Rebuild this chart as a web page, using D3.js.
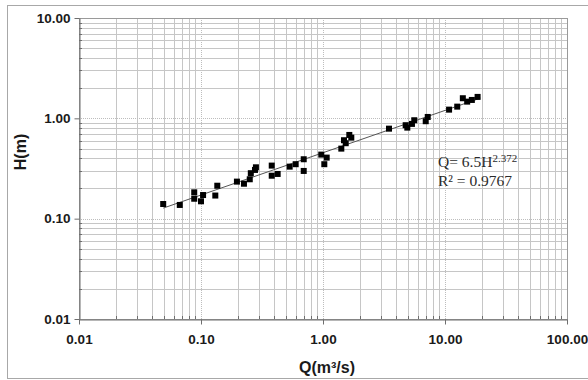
<!DOCTYPE html>
<html>
<head>
<meta charset="utf-8">
<script src="https://cdn.jsdelivr.net/npm/d3@7"></script>
<style>
  body { margin: 0; background: #fff; }
  svg { display: block; }
  .tick-label { font-family: "Liberation Sans", Arial, sans-serif; font-weight: bold; font-size: 13.5px; fill: #1a1a1a; }
  .axis-title { font-family: "Liberation Sans", Arial, sans-serif; font-weight: bold; font-size: 16px; fill: #1a1a1a; }
  .eq { font-family: "Liberation Serif", "Times New Roman", serif; font-size: 15.5px; fill: #2a2a2a; }
</style>
</head>
<body>
<div id="chart-area"></div>
<script>

// DATA
// =====

// discharge Q (m3/s) and stage H (m)
var qValues = [0.049, 0.067, 0.088, 0.088, 0.100, 0.104, 0.131, 0.136, 0.197, 0.225,
               0.251, 0.256, 0.277, 0.282, 0.380, 0.380, 0.425, 0.533, 0.597, 0.695,
               0.695, 0.968, 1.025, 1.072, 1.413, 1.486, 1.535, 1.643, 1.706, 3.475,
               4.76, 4.91, 5.36, 5.60, 6.95, 7.22, 10.8, 12.6, 14.0, 15.2,
               16.6, 18.5];
var hValues = [0.140, 0.137, 0.183, 0.158, 0.149, 0.172, 0.170, 0.213, 0.234, 0.223,
               0.247, 0.284, 0.306, 0.325, 0.338, 0.268, 0.279, 0.330, 0.349, 0.391,
               0.299, 0.435, 0.349, 0.406, 0.499, 0.605, 0.565, 0.683, 0.642, 0.789,
               0.854, 0.808, 0.880, 0.957, 0.936, 1.032, 1.221, 1.308, 1.586, 1.467,
               1.525, 1.635];

// power fit Q = a * H^b, drawn over this Q range
var fitCoef = 6.5;
var fitExp = 2.372;
var fitRange = [0.049, 19.5];

var xTicks = [0.01, 0.1, 1, 10, 100];
var yTicks = [0.01, 0.1, 1, 10];

// CANVAS
// =======

var W = 588, H = 380;
var plot = { left: 79, right: 567, top: 18, bottom: 319 };

var svg = d3.select('#chart-area')
    .append('svg')
        .attr('width', W)
        .attr('height', H);

// outer frame
svg.append('rect')
    .attr('x', 7.5)
    .attr('y', 5.5)
    .attr('width', 600)
    .attr('height', 373)
    .attr('fill', 'none')
    .attr('stroke', '#a8a8a8');

var x = d3.scaleLog()
    .domain([0.01, 100])
    .range([plot.left, plot.right]);

var y = d3.scaleLog()
    .domain([0.01, 10])
    .range([plot.bottom, plot.top]);

function isMajor(d) {
    var l = Math.log10(d);
    return Math.abs(l - Math.round(l)) < 1e-9;
}

var xAll = x.ticks(), yAll = y.ticks();

// GRID
// =====

var grid = svg.append('g');

grid.selectAll('.vgrid')
    .data(xAll)
    .enter().append('line')
        .attr('x1', d => Math.round(x(d)) + 0.5)
        .attr('x2', d => Math.round(x(d)) + 0.5)
        .attr('y1', plot.top)
        .attr('y2', plot.bottom)
        .attr('stroke', d => isMajor(d) ? '#bdbdbd' : '#c6c6c6')
        .attr('stroke-dasharray', d => isMajor(d) ? '1,1' : null);

grid.selectAll('.hgrid')
    .data(yAll)
    .enter().append('line')
        .attr('y1', d => Math.round(y(d)) + 0.5)
        .attr('y2', d => Math.round(y(d)) + 0.5)
        .attr('x1', plot.left)
        .attr('x2', plot.right)
        .attr('stroke', d => isMajor(d) ? '#bdbdbd' : '#c6c6c6')
        .attr('stroke-dasharray', d => isMajor(d) ? '1,1' : null);

// plot border (top / right)
svg.append('rect')
    .attr('x', plot.left + 0.5)
    .attr('y', plot.top + 0.5)
    .attr('width', plot.right - plot.left)
    .attr('height', plot.bottom - plot.top)
    .attr('fill', 'none')
    .attr('stroke', '#9a9a9a');

// AXES
// =====

var yAxisCall = d3.axisLeft(y)
    .tickValues(yTicks)
    .tickFormat(d3.format('.2f'))
    .tickSizeInner(5)
    .tickSizeOuter(0)
    .tickPadding(4);

var yAxis = svg.append('g')
    .attr('transform', 'translate(' + (plot.left + 0.5) + ',0)')
    .call(yAxisCall);

var xAxisCall = d3.axisBottom(x)
    .tickValues(xTicks)
    .tickFormat(d3.format('.2f'))
    .tickSizeInner(5)
    .tickSizeOuter(0)
    .tickPadding(10);

var xAxis = svg.append('g')
    .attr('transform', 'translate(0,' + (plot.bottom + 0.5) + ')')
    .call(xAxisCall);

[xAxis, yAxis].forEach(a => {
    a.select('.domain').attr('stroke', '#6e6e6e');
    a.selectAll('.tick line').attr('stroke', '#6e6e6e');
    a.selectAll('.tick text').attr('class', 'tick-label').attr('fill', null);
});

// minor ticks inside
svg.append('g').selectAll('line')
    .data(xAll.filter(d => !isMajor(d)))
    .enter().append('line')
        .attr('x1', d => Math.round(x(d)) + 0.5)
        .attr('x2', d => Math.round(x(d)) + 0.5)
        .attr('y1', plot.bottom - 3)
        .attr('y2', plot.bottom)
        .attr('stroke', '#6e6e6e');

svg.append('g').selectAll('line')
    .data(yAll.filter(d => !isMajor(d)))
    .enter().append('line')
        .attr('y1', d => Math.round(y(d)) + 0.5)
        .attr('y2', d => Math.round(y(d)) + 0.5)
        .attr('x1', plot.left)
        .attr('x2', plot.left + 3)
        .attr('stroke', '#6e6e6e');

// LABELS
// =======

svg.append('text')
    .attr('class', 'axis-title')
    .attr('text-anchor', 'middle')
    .attr('transform', 'translate(26,152) rotate(-90)')
    .text('H(m)');

svg.append('text')
    .attr('class', 'axis-title')
    .attr('text-anchor', 'middle')
    .attr('font-size', '17px')
    .attr('x', 327)
    .attr('y', 373)
    .text('Q(m³/s)');

// FIT LINE
// =========

var fitData = fitRange.map(q => ({ q: q, h: Math.pow(q / fitCoef, 1 / fitExp) }));

svg.append('path')
    .datum(fitData)
    .attr('fill', 'none')
    .attr('stroke', '#555')
    .attr('stroke-width', 1)
    .attr('d', d3.line().x(d => x(d.q)).y(d => y(d.h)));

// POINTS
// =======

var pts = qValues.map((q, i) => ({ q: q, h: hValues[i] }));

svg.append('g').selectAll('rect')
    .data(pts)
    .enter().append('rect')
        .attr('x', d => x(d.q) - 3)
        .attr('y', d => y(d.h) - 3)
        .attr('width', 6)
        .attr('height', 6)
        .attr('fill', '#000');

// EQUATION
// =========

var eq = svg.append('text')
    .attr('class', 'eq')
    .attr('x', 438)
    .attr('y', 167);
eq.append('tspan').text('Q= 6.5H');
eq.append('tspan')
    .attr('font-size', '11px')
    .attr('dy', -5)
    .text(fitExp);

svg.append('text')
    .attr('class', 'eq')
    .attr('x', 438)
    .attr('y', 186)
    .text('R² = 0.9767');

</script>
</body>
</html>
